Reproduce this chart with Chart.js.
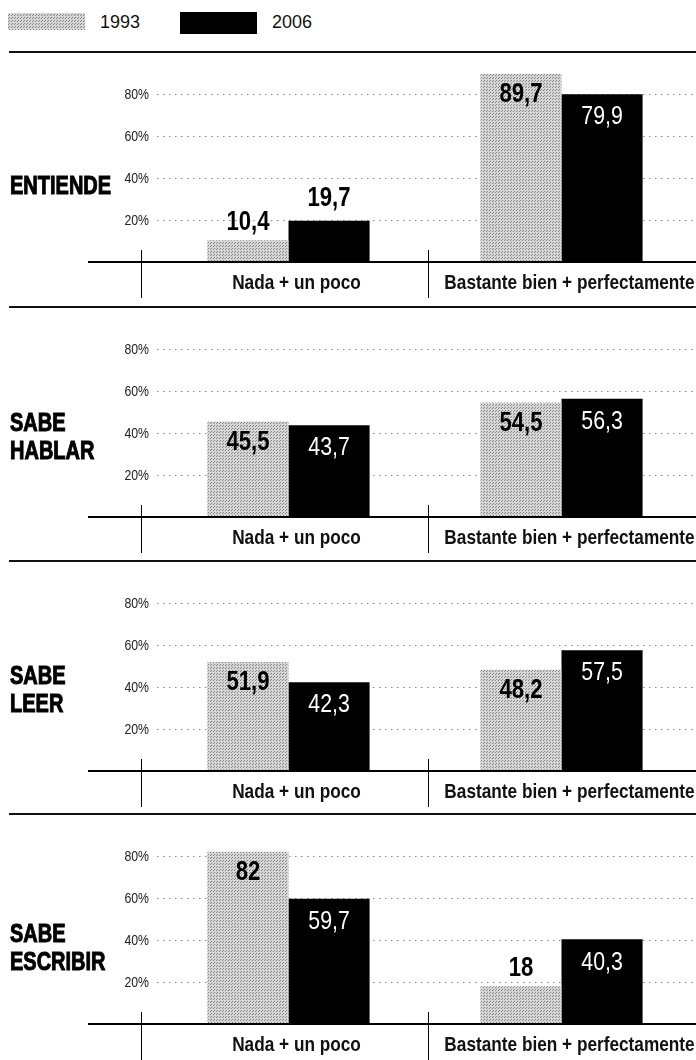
<!DOCTYPE html>
<html>
<head>
<meta charset="utf-8">
<script src="https://cdn.jsdelivr.net/npm/chart.js@4.4.1/dist/chart.umd.min.js"></script>
<style>
  html, body { margin: 0; padding: 0; background: #fff; }
  body { width: 696px; height: 1060px; overflow: hidden; position: relative; }
  #legend { position: absolute; left: 0; top: 0; width: 696px; height: 50px; font-family: "Liberation Sans", Arial, sans-serif; font-size: 18px; color: #111; }
  .sw { position: absolute; }
  .lt { position: absolute; top: 11px; line-height: 22px; }
  .panel { position: absolute; left: 0; width: 696px; height: 254px; }
  .sep { position: absolute; left: 9px; top: -1px; width: 687px; height: 2px; background: #111; }
  .panel canvas { position: absolute; left: 0; top: 0; }
  .title { position: absolute; left: 10px; font-family: "Liberation Sans", Arial, sans-serif; font-weight: bold; font-size: 25px; line-height: 28px; color: #000; -webkit-text-stroke: 1px #000; transform: scaleX(0.8); transform-origin: 0 0; white-space: nowrap; }
</style>
</head>
<body>
<div id="legend">
  <div class="sw" id="sw1993" style="left:8px; top:13px; width:77px; height:17px;"></div>
  <div class="lt" id="lt1993" style="left:100px;"></div>
  <div class="sw" style="left:180px; top:12px; width:77px; height:22px; background:#000;"></div>
  <div class="lt" id="lt2006" style="left:272px;"></div>
</div>

<script>
// ===== Data =====
const years = ["1993", "2006"];
const categories = ["Nada + un poco", "Bastante bien + perfectamente"];
const panelTitles = [["ENTIENDE"], ["SABE", "HABLAR"], ["SABE", "LEER"], ["SABE", "ESCRIBIR"]];
const values1993 = [[10.4, 89.7], [45.5, 54.5], [51.9, 48.2], [82, 18]];
const values2006 = [[19.7, 79.9], [43.7, 56.3], [42.3, 57.5], [59.7, 40.3]];
const yTicks = [20, 40, 60, 80];

// ===== Layout =====
const panelTops = [52, 307, 561, 814];
const titleTops = [119, 101, 100, 105];
const SANS = '"Liberation Sans", Arial, sans-serif';
const SX = 0.82; // horizontal squeeze to fake a narrow face

// halftone fill for the 1993 bars
function halftone() {
  const c = document.createElement("canvas");
  c.width = 3; c.height = 3;
  const g = c.getContext("2d");
  g.fillStyle = "#d6d6d6";
  g.fillRect(0, 0, 3, 3);
  g.fillStyle = "#858585";
  g.fillRect(1, 1, 1, 1);
  g.fillRect(0, 2, 1, 1);
  return c;
}
const tile = halftone();

document.getElementById("sw1993").style.background = `url(${tile.toDataURL()})`;
document.getElementById("lt1993").textContent = years[0];
document.getElementById("lt2006").textContent = years[1];

const fmt = v => String(v).replace(".", ",");

// draw condensed text
function narrowText(ctx, text, x, y, font) {
  ctx.save();
  ctx.font = font;
  ctx.translate(x, y);
  ctx.scale(SX, 1);
  ctx.fillText(text, 0, 0);
  ctx.restore();
}

const decor = {
  id: "decor",
  beforeDatasetsDraw(chart) {
    const ctx = chart.ctx;
    const { left } = chart.chartArea;
    const y = chart.scales.y;
    ctx.save();
    // dotted grid lines + tick labels
    yTicks.forEach(v => {
      const py = Math.round(y.getPixelForValue(v)) + 0.5;
      ctx.strokeStyle = "#888";
      ctx.lineWidth = 1;
      ctx.setLineDash([1.5, 4.5]);
      ctx.beginPath();
      ctx.moveTo(left + 5, py);
      ctx.lineTo(696, py);
      ctx.stroke();
      ctx.setLineDash([]);
      ctx.fillStyle = "#222";
      ctx.textAlign = "right";
      ctx.textBaseline = "middle";
      narrowText(ctx, v + "%", left - 3, py, "15px " + SANS);
    });
    ctx.restore();
  },
  afterDatasetsDraw(chart) {
    const ctx = chart.ctx;
    const { left, bottom } = chart.chartArea;
    const x = chart.scales.x;
    ctx.save();

    // baseline
    ctx.fillStyle = "#000";
    ctx.fillRect(88, bottom - 1, 700, 2);

    // category separators
    const mid = (x.getPixelForValue(0) + x.getPixelForValue(1)) / 2 + 3;
    [left - 11, mid].forEach(px => {
      ctx.fillRect(Math.round(px), bottom - 12, 1, 48);
    });

    // category labels
    ctx.textAlign = "center";
    ctx.textBaseline = "alphabetic";
    ctx.fillStyle = "#111";
    chart.data.labels.forEach((lab, i) => {
      narrowText(ctx, lab, x.getPixelForValue(i) + 8, bottom + 27, "bold 21px " + SANS);
    });

    // value labels
    ctx.textBaseline = "middle";
    chart.data.datasets.forEach((ds, di) => {
      const meta = chart.getDatasetMeta(di);
      meta.data.forEach((bar, i) => {
        const v = ds.data[i];
        const inside = v >= 30;
        let cy, font;
        if (di === 0) {
          font = "bold 27px " + SANS;
          ctx.fillStyle = "#000";
          cy = inside ? bar.y + 21 : bar.y - 18;
        } else if (inside) {
          font = "26px " + SANS;
          ctx.fillStyle = "#fff";
          cy = bar.y + 23;
        } else {
          font = "bold 27px " + SANS;
          ctx.fillStyle = "#000";
          cy = bar.y - 22;
        }
        narrowText(ctx, fmt(v), bar.x, cy, font);
      });
    });
    ctx.restore();
  }
};

panelTitles.forEach((title, p) => {
  const panel = document.createElement("div");
  panel.className = "panel";
  panel.style.top = panelTops[p] + "px";

  const canvas = document.createElement("canvas");
  canvas.width = 700;
  canvas.height = 254;
  panel.appendChild(canvas);

  const sep = document.createElement("div");
  sep.className = "sep";
  panel.appendChild(sep);

  const t = document.createElement("div");
  t.className = "title";
  t.style.top = titleTops[p] + "px";
  t.innerHTML = title.join("<br>");
  panel.appendChild(t);

  document.body.appendChild(panel);

  const pattern = canvas.getContext("2d").createPattern(tile, "repeat");

  new Chart(canvas, {
    type: "bar",
    data: {
      labels: categories,
      datasets: [
        { label: years[0], data: values1993[p], backgroundColor: pattern, borderWidth: 0 },
        { label: years[1], data: values2006[p], backgroundColor: "#000", borderWidth: 0 }
      ]
    },
    options: {
      responsive: false,
      animation: false,
      devicePixelRatio: 1,
      categoryPercentage: 0.594,
      barPercentage: 1,
      layout: { padding: { left: 152, right: 2, top: 0, bottom: 44 } },
      scales: {
        x: { display: false },
        y: { display: false, min: 0, max: 100 }
      },
      plugins: {
        legend: { display: false },
        tooltip: { enabled: false }
      }
    },
    plugins: [decor]
  });
});
</script>
</body>
</html>
